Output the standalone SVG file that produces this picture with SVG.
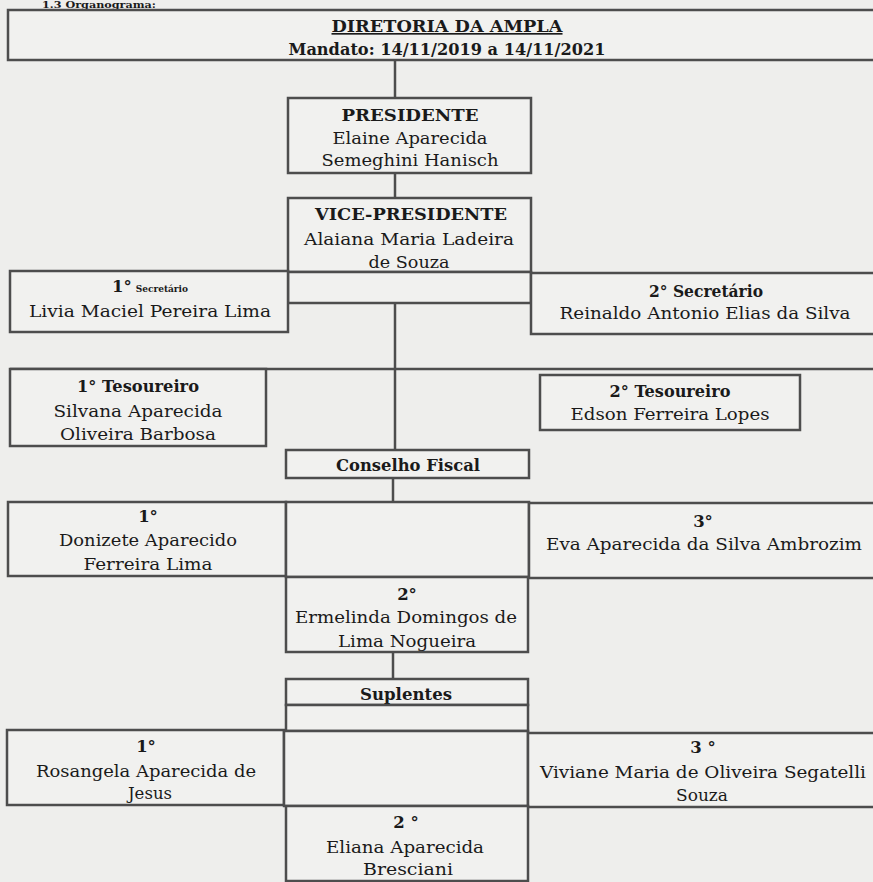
<svg xmlns="http://www.w3.org/2000/svg" width="873" height="882" viewBox="0 0 873 882">
<style>
.bg{fill:#eeeeec}
.box{fill:#f1f1ef;stroke:#4d4d4d;stroke-width:2.5}
.ln{stroke:#4d4d4d;stroke-width:2.5;fill:none}
text{font-family:"DejaVu Serif","Liberation Serif",serif;text-anchor:middle;fill:#1a1a1a}
.b{font-weight:bold;font-size:16.5px}
.n{font-size:16px}
</style>
<rect class="bg" x="0" y="0" width="873" height="882"/>
<text x="99" y="7.5" style="font-weight:bold;font-size:9.5px" textLength="114" lengthAdjust="spacingAndGlyphs">1.3 Organograma:</text>

<g id="connectors">
<line class="ln" x1="395" y1="60" x2="395" y2="98"/>
<line class="ln" x1="395" y1="173" x2="395" y2="198"/>
<line class="ln" x1="395" y1="272" x2="395" y2="450"/>
<line class="ln" x1="10" y1="369" x2="875" y2="369"/>
<line class="ln" x1="393" y1="478" x2="393" y2="502"/>
<line class="ln" x1="393" y1="652" x2="393" y2="679"/>
</g>

<g id="diretoria">
<rect class="box" x="8" y="10" width="880" height="50"/>
<text class="b" x="447" y="32" textLength="231" lengthAdjust="spacingAndGlyphs" text-decoration="underline">DIRETORIA DA AMPLA</text>
<text class="b" x="447" y="55" textLength="317" lengthAdjust="spacingAndGlyphs">Mandato: 14/11/2019 a 14/11/2021</text>
</g>

<g id="presidente">
<rect class="box" x="288" y="98" width="243" height="75"/>
<text class="b" x="410" y="121" textLength="137" lengthAdjust="spacingAndGlyphs">PRESIDENTE</text>
<text class="n" x="410" y="144" textLength="155" lengthAdjust="spacingAndGlyphs">Elaine Aparecida</text>
<text class="n" x="410" y="166" textLength="177" lengthAdjust="spacingAndGlyphs">Semeghini Hanisch</text>
</g>

<g id="vice-presidente">
<rect class="box" x="288" y="198" width="243" height="74"/>
<text class="b" x="411" y="220" textLength="192" lengthAdjust="spacingAndGlyphs">VICE-PRESIDENTE</text>
<text class="n" x="409" y="245" textLength="210" lengthAdjust="spacingAndGlyphs">Alaiana Maria Ladeira</text>
<text class="n" x="409" y="268" textLength="81" lengthAdjust="spacingAndGlyphs">de Souza</text>
</g>

<g id="cell-vp">
<rect class="box" x="288" y="272" width="243" height="31"/>
</g>

<g id="secretario1">
<rect class="box" x="10" y="271" width="278" height="61"/>
<text x="150" y="292"><tspan style="font-weight:bold;font-size:16.5px">1°</tspan><tspan style="font-weight:bold;font-size:9px" dx="4">Secretário</tspan></text>
<text class="n" x="150" y="317" textLength="242" lengthAdjust="spacingAndGlyphs">Livia Maciel Pereira Lima</text>
</g>

<g id="secretario2">
<rect class="box" x="531" y="273" width="350" height="61"/>
<text class="b" x="706" y="297" textLength="114" lengthAdjust="spacingAndGlyphs">2° Secretário</text>
<text class="n" x="705" y="319" textLength="291" lengthAdjust="spacingAndGlyphs">Reinaldo Antonio Elias da Silva</text>
</g>

<g id="tesoureiro1">
<rect class="box" x="10" y="369" width="256" height="77"/>
<text class="b" x="138" y="392" textLength="122" lengthAdjust="spacingAndGlyphs">1° Tesoureiro</text>
<text class="n" x="138" y="417" textLength="169" lengthAdjust="spacingAndGlyphs">Silvana Aparecida</text>
<text class="n" x="138" y="440" textLength="156" lengthAdjust="spacingAndGlyphs">Oliveira Barbosa</text>
</g>

<g id="tesoureiro2">
<rect class="box" x="540" y="375" width="260" height="55"/>
<text class="b" x="670" y="397" textLength="121" lengthAdjust="spacingAndGlyphs">2° Tesoureiro</text>
<text class="n" x="670" y="420" textLength="199" lengthAdjust="spacingAndGlyphs">Edson Ferreira Lopes</text>
</g>

<g id="conselho-fiscal">
<rect class="box" x="286" y="450" width="243" height="28"/>
<text class="b" x="408" y="471" textLength="144" lengthAdjust="spacingAndGlyphs">Conselho Fiscal</text>
</g>

<g id="cf1">
<rect class="box" x="8" y="502" width="278" height="74"/>
<text class="b" x="148" y="522">1°</text>
<text class="n" x="148" y="546" textLength="178" lengthAdjust="spacingAndGlyphs">Donizete Aparecido</text>
<text class="n" x="148" y="570" textLength="129" lengthAdjust="spacingAndGlyphs">Ferreira Lima</text>
</g>

<g id="cell-cf">
<rect class="box" x="286" y="502" width="243" height="75"/>
</g>

<g id="cf3">
<rect class="box" x="529" y="503" width="352" height="75"/>
<text class="b" x="703" y="527">3°</text>
<text class="n" x="704" y="550" textLength="316" lengthAdjust="spacingAndGlyphs">Eva Aparecida da Silva Ambrozim</text>
</g>

<g id="cf2">
<rect class="box" x="286" y="577" width="242" height="75"/>
<text class="b" x="407" y="600">2°</text>
<text class="n" x="406" y="623" textLength="222" lengthAdjust="spacingAndGlyphs">Ermelinda Domingos de</text>
<text class="n" x="407" y="647" textLength="138" lengthAdjust="spacingAndGlyphs">Lima Nogueira</text>
</g>

<g id="suplentes">
<rect class="box" x="286" y="679" width="242" height="26"/>
<text class="b" x="406" y="700" textLength="92" lengthAdjust="spacingAndGlyphs">Suplentes</text>
</g>

<g id="cell-sup">
<rect class="box" x="286" y="705" width="242" height="26"/>
</g>

<g id="sup1">
<rect class="box" x="7" y="730" width="277" height="75"/>
<text class="b" x="146" y="752">1°</text>
<text class="n" x="146" y="777" textLength="220" lengthAdjust="spacingAndGlyphs">Rosangela Aparecida de</text>
<text class="n" x="150" y="799" textLength="44" lengthAdjust="spacingAndGlyphs">Jesus</text>
</g>

<g id="cell-sup2">
<rect class="box" x="284" y="731" width="244" height="75"/>
</g>

<g id="sup3">
<rect class="box" x="528" y="733" width="353" height="74"/>
<text class="b" x="703" y="753">3 °</text>
<text class="n" x="703" y="778" textLength="326" lengthAdjust="spacingAndGlyphs">Viviane Maria de Oliveira Segatelli</text>
<text class="n" x="702" y="801" textLength="52" lengthAdjust="spacingAndGlyphs">Souza</text>
</g>

<g id="sup2">
<rect class="box" x="286" y="806" width="242" height="75"/>
<text class="b" x="406" y="828">2 °</text>
<text class="n" x="405" y="853" textLength="158" lengthAdjust="spacingAndGlyphs">Eliana Aparecida</text>
<text class="n" x="408" y="875" textLength="90" lengthAdjust="spacingAndGlyphs">Bresciani</text>
</g>
</svg>
